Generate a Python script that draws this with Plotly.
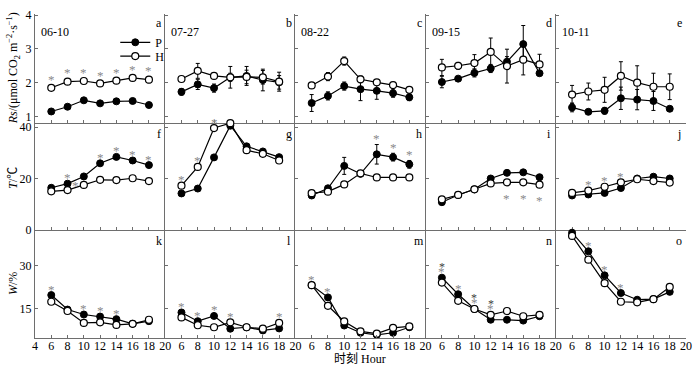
import plotly.graph_objects as go

# ---------------- data ----------------
hours = [6, 8, 10, 12, 14, 16, 18]
dates = ["06-10", "07-27", "08-22", "09-15", "10-11"]
letters = list("abcdefghijklmno")

rs_P = [
    [1.15, 1.29, 1.48, 1.39, 1.45, 1.46, 1.34],
    [1.73, 1.95, 1.84, 2.16, 2.20, 2.08, 2.01],
    [1.40, 1.61, 1.90, 1.81, 1.76, 1.69, 1.57],
    [2.02, 2.12, 2.29, 2.42, 2.62, 3.14, 2.28],
    [1.27, 1.14, 1.17, 1.54, 1.50, 1.46, 1.23],
]
rs_H = [
    [1.85, 2.03, 2.05, 1.98, 2.06, 2.14, 2.09],
    [2.11, 2.35, 2.20, 2.16, 2.17, 2.16, 2.03],
    [1.92, 2.18, 2.64, 2.10, 2.01, 1.93, 1.79],
    [2.45, 2.50, 2.58, 2.91, 2.49, 2.68, 2.54],
    [1.65, 1.74, 1.79, 2.20, 2.00, 1.88, 1.88],
]
rs_P_err = [
    [0.03, 0.04, 0.04, 0.04, 0.04, 0.04, 0.04],
    [0.10, 0.15, 0.12, 0.12, 0.28, 0.32, 0.20],
    [0.25, 0.12, 0.12, 0.34, 0.25, 0.12, 0.10],
    [0.17, 0.05, 0.12, 0.12, 0.15, 0.55, 0.06],
    [0.13, 0.05, 0.10, 0.33, 0.30, 0.28, 0.05],
]
rs_H_err = [
    [0.07, 0.08, 0.08, 0.07, 0.07, 0.08, 0.09],
    [0.07, 0.22, 0.08, 0.32, 0.20, 0.20, 0.28],
    [0.08, 0.12, 0.12, 0.10, 0.06, 0.08, 0.06],
    [0.24, 0.10, 0.25, 0.41, 0.50, 0.45, 0.30],
    [0.27, 0.25, 0.37, 0.42, 0.50, 0.40, 0.38],
]
rs_sig = [
    [1, 1, 1, 1, 1, 1, 1],
    [0, 0, 0, 0, 0, 0, 0],
    [0, 0, 0, 0, 0, 0, 0],
    [0, 0, 0, 0, 0, 0, 0],
    [0, 0, 0, 0, 0, 0, 0],
]

T_P = [
    [16.4, 18.0, 20.8, 25.9, 28.4, 27.0, 25.2],
    [14.2, 16.1, 28.2, 40.5, 32.5, 30.5, 28.3],
    [13.4, 16.2, 24.9, 21.8, 29.4, 28.3, 25.5],
    [10.8, 13.6, 15.8, 20.0, 22.2, 22.4, 20.5],
    [13.4, 13.8, 14.4, 16.3, 20.0, 20.7, 20.0],
]
T_H = [
    [15.0, 15.5, 17.5, 19.5, 19.4, 20.1, 19.0],
    [17.2, 24.5, 39.6, 41.5, 31.0, 29.6, 27.0],
    [14.3, 14.9, 17.7, 22.0, 20.4, 20.4, 20.4],
    [11.9, 13.6, 15.8, 18.1, 18.5, 18.5, 17.6],
    [14.4, 15.3, 16.8, 18.5, 19.7, 19.0, 18.4],
]
T_P_err = [
    [0, 0, 0, 0, 0, 0, 0],
    [0, 0, 0, 0, 0, 0, 0],
    [0.5, 0.5, 3.3, 0.8, 3.8, 1.5, 1.5],
    [0, 0, 0, 0, 0, 0, 0],
    [0, 0, 0, 0, 0, 0, 0],
]
T_H_err = [
    [0, 0, 0, 0, 0, 0, 0],
    [0, 0, 0, 0, 0, 0, 0],
    [0, 0, 0, 0, 0, 0, 0],
    [0, 0, 0, 0, 0, 0, 0],
    [0, 0, 0, 0, 0, 0, 0],
]
T_sig = [
    [0, 1, 1, 1, 1, 1, 1],
    [1, 1, 1, 0, 0, 0, 0],
    [0, 0, 0, 0, 1, 1, 1],
    [0, 0, 0, 0, 1, 1, 1],
    [0, 1, 1, 1, 0, 0, 0],
]

W_P = [
    [19.8, 14.8, 13.1, 12.4, 11.5, 9.9, 10.8],
    [13.8, 10.8, 12.6, 8.2, 8.7, 7.6, 8.3],
    [23.2, 19.0, 9.3, 6.8, 6.1, 6.8, 8.7],
    [25.8, 20.1, 15.0, 11.3, 11.3, 11.0, 12.5],
    [41.3, 34.9, 26.6, 20.5, 18.2, 18.4, 20.9],
]
W_H = [
    [17.5, 14.3, 10.2, 10.4, 9.5, 9.9, 11.3],
    [12.1, 9.4, 8.7, 10.4, 8.7, 8.2, 10.2],
    [23.2, 16.1, 10.7, 7.3, 6.5, 8.5, 9.0],
    [24.1, 17.8, 15.0, 13.0, 14.3, 12.5, 13.0],
    [40.2, 32.0, 23.9, 17.5, 17.3, 18.4, 22.6],
]
W_zero = [[0] * 7 for _ in range(5)]
W_sig = [
    [1, 0, 1, 1, 1, 0, 0],
    [1, 1, 1, 1, 0, 0, 1],
    [1, 1, 0, 0, 0, 0, 0],
    [2, 1, 2, 2, 0, 0, 0],
    [0, 1, 1, 1, 0, 0, 0],
]

row_ranges = [[0.82, 4.03], [-0.15, 41.7], [5, 42.1]]
row_ticks = [[1, 2, 3, 4], [0, 20, 40], [15, 30]]
row_titles = ["<i>Rs</i>/(μmol CO<sub>2</sub> m<sup>−2</sup>·s<sup>−1</sup>)",
              "<i>T</i>/℃", "<i>W</i>/%"]
stars_below = {9}          # panel j: stars under the lines
stars_left = {(6, 2)}      # panel g, 10 h: star left of the point

rows = [
    (rs_P, rs_H, rs_P_err, rs_H_err, rs_sig),
    (T_P, T_H, T_P_err, T_H_err, T_sig),
    (W_P, W_H, W_zero, W_zero, W_sig),
]

# ---------------- layout geometry ----------------
W, H = 700, 368
OFF = 0                          # body margin removed below
PX0, PX1, PY0, PY1 = 35, 692, 9, 338   # plot area in window pixels
ML, MT = PX0 - OFF, PY0 - OFF
MR, MB = W - (PX1 - OFF), H - (PY1 - OFF)
PW, PH = PX1 - PX0, PY1 - PY0


def px2paper(xp, yp):
    return (xp - PX0) / PW, (PY1 - yp) / PH


row_dom = [[0.6647, 1.0], [0.3322, 0.6647], [0.0, 0.3322]]
FONT = "Liberation Serif, Times New Roman, Noto Sans CJK SC, serif"
AX = "#6e6e6e"
STAR = "#8a8a8a"

fig = go.Figure()
annotations = []

for r in range(3):
    P, Hh, Pe, He, sig = rows[r]
    for c in range(5):
        idx = r * 5 + c + 1
        xs = "" if idx == 1 else str(idx)
        xa, ya = "x" + xs, "y" + xs
        fig.add_trace(go.Scatter(
            x=hours, y=P[c], xaxis=xa, yaxis=ya, mode="lines+markers",
            name="P", showlegend=(idx == 1), legend="legend", cliponaxis=False,
            line=dict(color="black", width=1.2),
            marker=dict(symbol="circle", size=7, color="black",
                        line=dict(color="black", width=1)),
            error_y=dict(type="data", array=Pe[c], visible=any(v > 0 for v in Pe[c]),
                         color="black", thickness=1, width=2),
        ))
        fig.add_trace(go.Scatter(
            x=hours, y=Hh[c], xaxis=xa, yaxis=ya, mode="lines+markers",
            name="H", showlegend=(idx == 1), legend="legend2", cliponaxis=False,
            line=dict(color="black", width=1.2),
            marker=dict(symbol="circle", size=7, color="white",
                        line=dict(color="black", width=1.2)),
            error_y=dict(type="data", array=He[c], visible=any(v > 0 for v in He[c]),
                         color="black", thickness=1, width=2),
        ))
        for k, h in enumerate(hours):
            s = sig[c][k]
            if not s:
                continue
            top = max(P[c][k] + Pe[c][k], Hh[c][k] + He[c][k])
            low = min(P[c][k], Hh[c][k])
            if idx in stars_below:
                y, ysh, xsh = low, -16, 0
            elif (idx, k) in stars_left:
                y, ysh, xsh = Hh[c][k], -1, -8
            else:
                y, ysh, xsh = top, 6, 0
            annotations.append(dict(
                x=h, y=y, xref=xa, yref=ya, text="*", showarrow=False,
                xshift=xsh, yshift=ysh, font=dict(family=FONT, size=13, color=STAR)))
            if s == 2:
                annotations.append(dict(
                    x=h, y=y, xref=xa, yref=ya, text="*", showarrow=False,
                    xshift=xsh, yshift=ysh + 5, font=dict(family=FONT, size=12, color="#404040")))
        annotations.append(dict(
            x=0.95, y=1, xref=xa + " domain", yref=ya + " domain", text=letters[idx - 1],
            showarrow=False, xanchor="center", yanchor="middle",
            yshift=-9 if r == 0 else -11, font=dict(family=FONT, size=12, color="black")))
        if r == 0:
            annotations.append(dict(
                x=0.03, y=1, xref=xa + " domain", yref=ya + " domain", text=dates[c],
                showarrow=False, xanchor="left", yanchor="middle", yshift=-18,
                font=dict(family=FONT, size=12, color="black")))

        bottom = (r == 2)
        if bottom:
            tv = list(range(4, 21, 2)) if c == 0 else list(range(6, 21, 2))
        else:
            tv = list(range(6, 19, 2))
        fig.layout["xaxis" + xs] = dict(
            domain=[c / 5, (c + 1) / 5], anchor=ya, range=[4, 20],
            tickvals=tv, ticktext=[str(v) for v in tv], showticklabels=bottom,
            ticks="inside", ticklen=3, tickcolor=AX, showline=True, linecolor=AX,
            linewidth=1, showgrid=False, zeroline=False, ticklabelstandoff=-3,
            tickfont=dict(family=FONT, size=12, color="black"),
        )
        fig.layout["yaxis" + xs] = dict(
            domain=row_dom[r], anchor=xa, range=row_ranges[r],
            tickvals=row_ticks[r], showticklabels=(c == 0),
            ticks="inside", ticklen=3, tickcolor=AX, showline=True, linecolor=AX,
            linewidth=1, showgrid=False, zeroline=False,
            tickfont=dict(family=FONT, size=12, color="black"),
        )

for r, ypx in enumerate([64, 175, 283]):
    xp, yp = px2paper(13, ypx)
    annotations.append(dict(
        x=xp, y=yp, xref="paper", yref="paper",
        text=row_titles[r], textangle=-90, showarrow=False, xanchor="center", yanchor="middle",
        font=dict(family=FONT, size=12, color="black")))
xp, yp = px2paper(363, 359)
annotations.append(dict(
    x=xp, y=yp, xref="paper", yref="paper",
    text="时刻 Hour", showarrow=False, xanchor="center", yanchor="middle",
    font=dict(family=FONT, size=12, color="black")))

l1x, l1y = px2paper(116, 23)
l2x, l2y = px2paper(116, 37)
leg = dict(xanchor="left", yanchor="top", bgcolor="rgba(0,0,0,0)",
           font=dict(family=FONT, size=12, color="black"), itemwidth=30, tracegroupgap=0)
fig.update_layout(
    width=W, height=H, margin=dict(l=ML, r=MR, t=MT, b=MB),
    paper_bgcolor="white", plot_bgcolor="white",
    annotations=annotations,
    showlegend=True,
    legend=dict(x=l1x, y=l1y, **leg),
    legend2=dict(x=l2x, y=l2y, **leg),
    font=dict(family=FONT),
)

fig.write_html("out.html", config={"displayModeBar": False},
               post_script="document.body.style.margin='0';document.body.style.overflow='hidden';")
